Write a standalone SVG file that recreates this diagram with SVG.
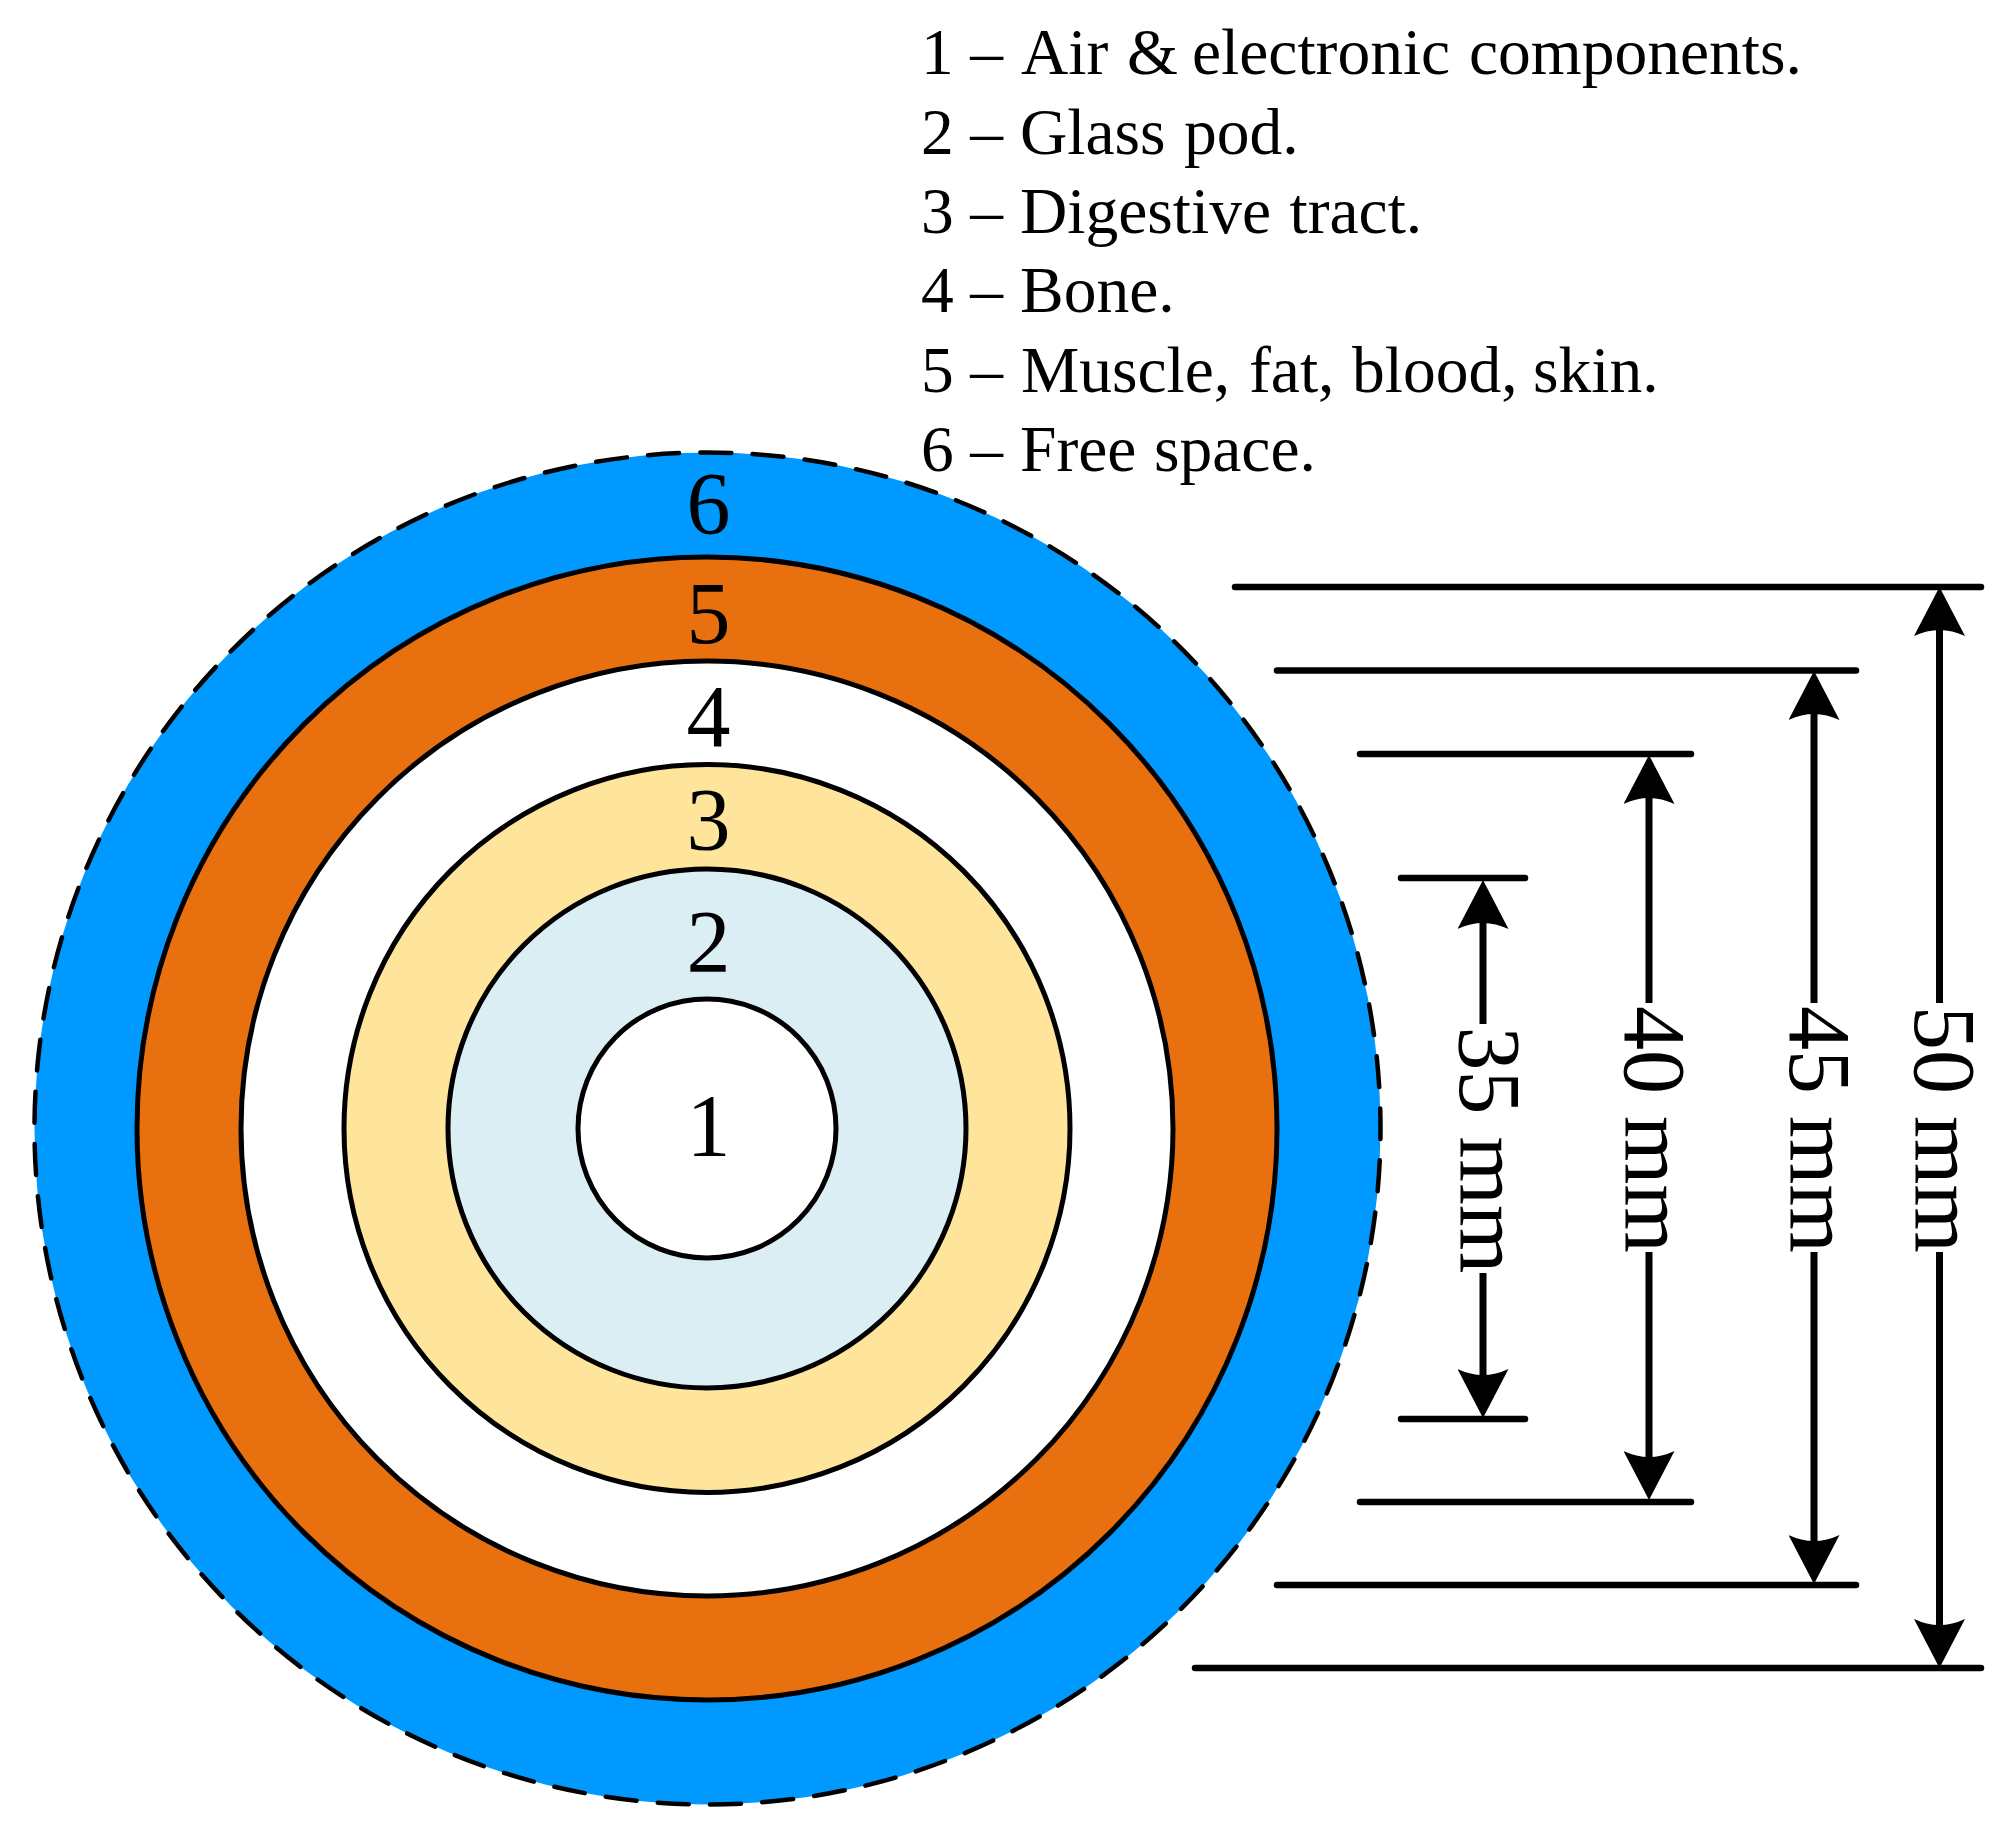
<svg xmlns="http://www.w3.org/2000/svg" width="2012" height="1831" viewBox="0 0 2012 1831">
<style>
text{font-family:"Liberation Serif","Times New Roman",serif;fill:#000}
.num{font-size:88px;text-anchor:middle}
.leg{font-size:65.5px}
.dim{font-size:88px;text-anchor:middle}
.ring{stroke:#000;stroke-width:5}
.tick{stroke:#000;stroke-width:6.5;stroke-linecap:round;fill:none}
.shaft{stroke:#000;stroke-width:7;fill:none;marker-end:url(#head)}
</style>
<defs>
<marker id="head" markerUnits="userSpaceOnUse" markerWidth="49" markerHeight="51" refX="17" refY="25.5" orient="auto" viewBox="0 0 49 51">
<path d="M49,25.5 L0,0 Q12,25.5 0,51 Z" fill="#000"/>
</marker>
</defs>
<rect width="2012" height="1831" fill="#fff"/>
<g id="legend">
<text class="leg" x="921" y="74">1 – <tspan x="1021">Air </tspan><tspan x="1127">&amp; </tspan><tspan x="1192">electronic </tspan><tspan x="1469">components.</tspan></text>
<text class="leg" x="921" y="154">2 – <tspan x="1020">Glass </tspan><tspan x="1184">pod.</tspan></text>
<text class="leg" x="921" y="233">3 – <tspan x="1020">Digestive </tspan><tspan x="1289.5">tract.</tspan></text>
<text class="leg" x="921" y="312">4 – <tspan x="1020">Bone.</tspan></text>
<text class="leg" x="921" y="392">5 – <tspan x="1021">Muscle, </tspan><tspan x="1249">fat, </tspan><tspan x="1352">blood, </tspan><tspan x="1533">skin.</tspan></text>
<text class="leg" x="921" y="471">6 – <tspan x="1020">Free </tspan><tspan x="1154">space.</tspan></text>
</g>
<g id="ring-6">
<ellipse cx="707.5" cy="1128.5" rx="673" ry="676" fill="#0099FF"/>
<ellipse cx="707.5" cy="1128.5" rx="673" ry="676" fill="none" stroke="#000" stroke-width="4.5" stroke-dasharray="31 21.32" stroke-dashoffset="-31.8" stroke-linecap="round"/>
<text class="num" x="708.5" y="533">6</text>
</g>
<g id="ring-5">
<ellipse class="ring" cx="707" cy="1128.5" rx="570" ry="571.5" fill="#E9700E"/>
<text class="num" x="708.5" y="643">5</text>
</g>
<g id="ring-4">
<ellipse class="ring" cx="707" cy="1128.5" rx="466" ry="467.5" fill="#fff"/>
<text class="num" x="708.5" y="746">4</text>
</g>
<g id="ring-3">
<ellipse class="ring" cx="707" cy="1128.5" rx="363" ry="364" fill="#FEE59B"/>
<text class="num" x="708.5" y="849">3</text>
</g>
<g id="ring-2">
<ellipse class="ring" cx="707" cy="1128.5" rx="259" ry="259.5" fill="#DBEEF4"/>
<text class="num" x="708.5" y="971">2</text>
</g>
<g id="ring-1">
<ellipse class="ring" cx="707" cy="1128.5" rx="129" ry="129.5" fill="#fff"/>
<text class="num" x="708.5" y="1155">1</text>
</g>
<g id="connectors">
<path class="tick" d="M1235,587H1981M1277,670.5H1856M1360,754H1691M1401,878H1525M1401,1419H1525M1360,1502H1691M1277,1585H1856M1195,1668H1981"/>
<path class="shaft" d="M1483,1024V912"/>
<path class="shaft" d="M1483,1273V1386"/>
<path class="shaft" d="M1649,1003V787"/>
<path class="shaft" d="M1649,1252V1468"/>
<path class="shaft" d="M1814,1003V703"/>
<path class="shaft" d="M1814,1252V1552"/>
<path class="shaft" d="M1939.5,1003V619"/>
<path class="shaft" d="M1939.5,1252V1636"/>
</g>
<g id="dimension-labels">
<text class="dim" transform="translate(1460,1150) rotate(90)">35 mm</text>
<text class="dim" transform="translate(1625,1129.5) rotate(90)">40 mm</text>
<text class="dim" transform="translate(1790,1129.5) rotate(90)">45 mm</text>
<text class="dim" transform="translate(1915,1129.5) rotate(90)">50 mm</text>
</g>
</svg>
